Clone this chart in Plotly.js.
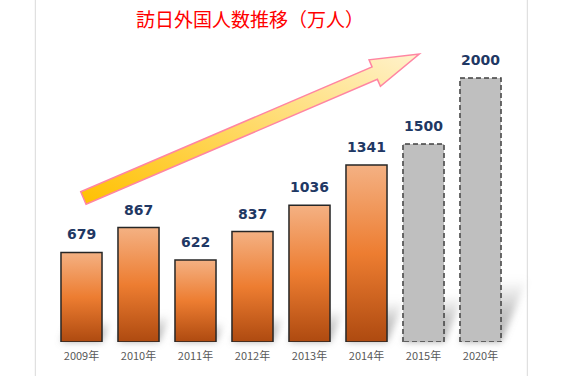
<!DOCTYPE html>
<html>
<head>
<meta charset="utf-8">
<script src="https://cdn.plot.ly/plotly-3.0.1.min.js"></script>
<style>html,body{margin:0;padding:0;background:#fff;}#chart{width:564px;height:376px;}</style>
</head>
<body>
<div id="chart"></div>
<script>
// ---- data ----
const categories = ['2009年','2010年','2011年','2012年','2013年','2014年','2015年','2020年'];
const actualYears = ['2009年','2010年','2011年','2012年','2013年','2014年'];
const actualValues = [679, 867, 622, 837, 1036, 1341];
const targetYears = ['2015年','2020年'];
const targetValues = [1500, 2000];
const chartTitle = '訪日外国人数推移（万人）';

// ---- layout helpers (pixel -> paper) ----
const M = {l:53, r:55, t:40, b:34};
const W = 564 - M.l - M.r, H = 376 - M.t - M.b;
const px = x => (x - M.l) / W;
const py = y => (376 - M.b - y) / H;

// decorative arrow geometry
function arrowPath(){
  const T = [83.4, 198], tip = [419.3, 54];
  const dx = tip[0]-T[0], dy = tip[1]-T[1], L = Math.hypot(dx,dy);
  const u = [dx/L, dy/L], n = [-u[1], u[0]];
  const w = 6.8, Wh = 14.4, sb = L - 48.5;
  const p = (s,o) => [T[0]+s*u[0]+o*n[0], T[1]+s*u[1]+o*n[1]];
  const pts = [p(0,-w), p(sb,-w), p(sb,-Wh), p(L,0), p(sb,Wh), p(sb,w), p(0,w)];
  return 'M' + pts.map(q => px(q[0]).toFixed(4)+','+py(q[1]).toFixed(4)).join(' L') + ' Z';
}

const labelFont = {family:'DejaVu Sans, Verdana, sans-serif', size:14, color:'#1F3864', weight:'bold'};
const annotations = categories.map((c,i) => {
  const v = i < actualValues.length ? actualValues[i] : targetValues[i-actualValues.length];
  return {x:c, y:v, xref:'x', yref:'y', text:String(v), showarrow:false, yshift:18, font:labelFont};
});

const traces = [
  {type:'bar', x:actualYears, y:actualValues, width:0.72,
   marker:{color:'#ED7D31', line:{color:'#262626', width:1.5}}, hoverinfo:'x+y'},
  {type:'bar', x:targetYears, y:targetValues, width:0.72,
   marker:{color:'#BFBFBF', line:{color:'#404040', width:1.5}}, hoverinfo:'x+y'}
];

const layout = {
  width:564, height:376,
  margin:M,
  paper_bgcolor:'#ffffff', plot_bgcolor:'#ffffff',
  showlegend:false,
  barmode:'overlay',
  title:{text:chartTitle, x:250/564, xanchor:'center', y:1-20/376, yanchor:'middle',
         font:{family:'Noto Sans CJK JP', size:19, color:'#FF0000'}},
  xaxis:{type:'category', categoryorder:'array', categoryarray:categories, range:[-0.5,7.5],
         showgrid:false, zeroline:false, showline:false, ticks:'', ticklabelstandoff:6,
         tickfont:{family:'Noto Sans CJK JP', size:11, color:'#595959'}},
  yaxis:{range:[0, 2288], visible:false, showgrid:false, zeroline:false},
  annotations: annotations,
  shapes:[
    {type:'line', xref:'paper', yref:'paper', x0:px(35.3), x1:px(35.3), y0:py(376), y1:py(0),
     line:{color:'#D9D9D9', width:1}, layer:'below'},
    {type:'line', xref:'paper', yref:'paper', x0:px(527.3), x1:px(527.3), y0:py(376), y1:py(0),
     line:{color:'#D9D9D9', width:1}, layer:'below'},
    {type:'path', xref:'paper', yref:'paper', path:arrowPath(),
     fillcolor:'#FFD966', line:{color:'#FF85A2', width:1.5}, layer:'above'}
  ]
};

const NS = 'http://www.w3.org/2000/svg';
function mk(tag, attrs){ const e = document.createElementNS(NS, tag); for (const k in attrs) e.setAttribute(k, attrs[k]); return e; }

Plotly.newPlot('chart', traces, layout, {staticPlot:true}).then(gd => {
  const svg = gd.querySelector('svg.main-svg');
  let defs = svg.querySelector('defs');
  if (!defs) { defs = mk('defs', {}); svg.insertBefore(defs, svg.firstChild); }
  const bg = mk('linearGradient', {id:'barGrad', x1:'0', y1:'0', x2:'0', y2:'1'});
  [['0','#F4B183'],['0.5','#ED7D31'],['1','#AE4A10']].forEach(s => bg.appendChild(mk('stop', {offset:s[0], 'stop-color':s[1]})));
  defs.appendChild(bg);
  const ag = mk('linearGradient', {id:'arrowGrad', x1:'0', y1:'1', x2:'1', y2:'0'});
  [['0','#FFC000'],['1','#FFF2CC']].forEach(s => ag.appendChild(mk('stop', {offset:s[0], 'stop-color':s[1]})));
  defs.appendChild(ag);
  const sg = mk('linearGradient', {id:'shadowGrad', x1:'0', y1:'0', x2:'0', y2:'1'});
  [['0','#a0a0a0','0'],['0.5','#909090','0.5'],['1','#808080','0.65']].forEach(s => sg.appendChild(mk('stop', {offset:s[0], 'stop-color':s[1], 'stop-opacity':s[2]})));
  defs.appendChild(sg);
  const f = mk('filter', {id:'shBlur', x:'-50%', y:'-50%', width:'200%', height:'200%'});
  f.appendChild(mk('feGaussianBlur', {'in':'SourceGraphic', stdDeviation:'3.5'}));
  defs.appendChild(f);

  const barLayer = gd.querySelector('.barlayer');
  let clipped = barLayer;
  while (clipped && clipped !== svg && !clipped.getAttribute('clip-path')) clipped = clipped.parentNode;
  if (!clipped || clipped === svg) clipped = barLayer;
  let tx = 0, ty = 0, node = barLayer;
  while (node && node !== clipped.parentNode) {
    const t = node.getAttribute && node.getAttribute('transform');
    if (t) { const m = /translate\(\s*([-\d.]+)[ ,]+([-\d.]+)/.exec(t); if (m) { tx += +m[1]; ty += +m[2]; } }
    node = node.parentNode;
  }
  const shadowG = mk('g', {class:'bar-shadows', transform:`translate(${tx},${ty})`});
  clipped.parentNode.insertBefore(shadowG, clipped);
  const innerG = mk('g', {filter:'url(#shBlur)'});
  shadowG.appendChild(innerG);

  gd.querySelectorAll('.barlayer .trace').forEach((tg, ti) => {
    tg.querySelectorAll('.point path').forEach(p => {
      const bb = p.getBBox();
      const y0 = bb.y + bb.height, a = 0.1, b = 0.24;
      const sh = mk('path', {d: p.getAttribute('d'), fill:'url(#shadowGrad)', stroke:'none',
        transform:`matrix(1,0,${-a},${b},${a*y0},${(1-b)*y0})`});
      innerG.appendChild(sh);
      if (ti === 0) p.style.fill = 'url(#barGrad)';
      else p.style.strokeDasharray = '5,3';
    });
  });
  gd.querySelectorAll('.layer-above .shapelayer path').forEach(sp => {
    if ((sp.getAttribute('d')||'').length > 40) sp.style.fill = 'url(#arrowGrad)';
  });
});
</script>
</body>
</html>
